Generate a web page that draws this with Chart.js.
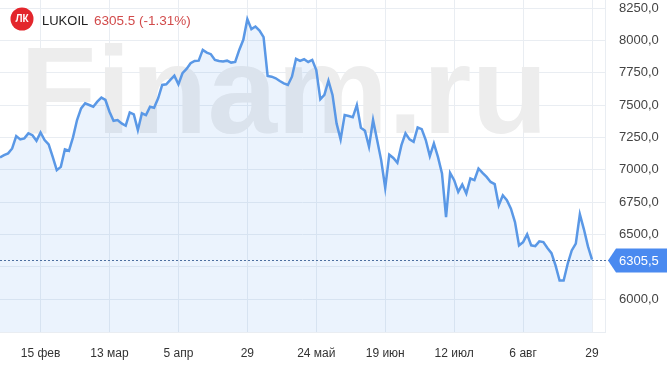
<!DOCTYPE html>
<html>
<head>
<meta charset="utf-8">
<script src="https://cdn.jsdelivr.net/npm/chart.js@4"></script>
<style>
  html, body { margin: 0; padding: 0; background: #fff; }
  canvas { display: block; }
</style>
</head>
<body>
<canvas id="chart" width="667" height="372"></canvas>
<script>
// trading-day index of each x tick and its label
const tickDays = [10, 27, 44, 61, 78, 95, 112, 129, 146];
const tickLabels = ["15 фев", "13 мар", "5 апр", "29", "24 май", "19 июн", "12 июл", "6 авг", "29"];

const priceTicks = [6000, 6250, 6500, 6750, 7000, 7250, 7500, 7750, 8000, 8250];

// daily close, one value per trading day
const prices = [
  7095, 7113, 7126, 7164, 7260, 7234, 7242, 7281, 7267, 7223,
  7288, 7229, 7195, 7099, 6996, 7022, 7157, 7146, 7250, 7384,
  7474, 7513, 7500, 7487, 7526, 7557, 7539, 7448, 7378, 7384,
  7358, 7340, 7443, 7428, 7306, 7436, 7422, 7487, 7479, 7552,
  7655, 7660, 7694, 7727, 7660, 7746, 7779, 7823, 7841, 7843,
  7926, 7905, 7893, 7849, 7841, 7836, 7843, 7828, 7833, 7926,
  8004, 8164, 8087, 8107, 8076, 8025, 7725, 7719, 7707, 7686,
  7668, 7655, 7719, 7857, 7841, 7854, 7833, 7849, 7771, 7544,
  7578, 7688, 7578, 7358, 7234, 7422, 7415, 7405, 7500, 7324,
  7301, 7177, 7384, 7229, 7074, 6860, 7116, 7091, 7054, 7190,
  7281, 7234, 7215, 7327, 7314, 7229, 7105, 7203, 7099, 6971,
  6634, 6975, 6919, 6828, 6885, 6816, 6932, 6919, 7009, 6975,
  6944, 6905, 6888, 6725, 6802, 6764, 6699, 6595, 6415, 6440,
  6500, 6415, 6409, 6446, 6440, 6394, 6355, 6260, 6143, 6143,
  6273, 6376, 6428, 6655, 6539, 6407, 6305.5
];

const ticker = "LUKOIL";
const changePct = -1.31;

const lastPrice = prices[prices.length - 1];
const LINE_COLOR = "#5a98e6";
const GRID_COLOR = "#e9edf2";

function fmtComma(v, digits) {
  return v.toFixed(digits).replace(".", ",");
}

// big pale "Finam.ru" behind the line
const watermark = {
  id: "watermark",
  beforeDatasetsDraw(chart) {
    const ctx = chart.ctx;
    ctx.save();
    ctx.font = "bold 125px 'Liberation Sans', Arial, sans-serif";
    ctx.fillStyle = "#ededed";
    ctx.textBaseline = "alphabetic";
    ctx.fillText("Finam.ru", 20, 133);
    ctx.restore();
  },
};

// dotted last price line + blue tag on the axis
const lastPriceTag = {
  id: "lastPriceTag",
  afterDraw(chart) {
    const ctx = chart.ctx;
    const y = Math.round(chart.scales.y.getPixelForValue(lastPrice)) + 0.5;
    const area = chart.chartArea;
    ctx.save();
    ctx.strokeStyle = "#4d6f9f";
    ctx.lineWidth = 1;
    ctx.setLineDash([2, 2]);
    ctx.beginPath();
    ctx.moveTo(0, y);
    ctx.lineTo(area.right + 4, y);
    ctx.stroke();
    ctx.setLineDash([]);

    const x0 = area.right + 3;
    ctx.fillStyle = "#4a8af0";
    ctx.beginPath();
    ctx.moveTo(x0, y);
    ctx.lineTo(x0 + 8, y - 12);
    ctx.lineTo(chart.width, y - 12);
    ctx.lineTo(chart.width, y + 12);
    ctx.lineTo(x0 + 8, y + 12);
    ctx.closePath();
    ctx.fill();

    ctx.fillStyle = "#fff";
    ctx.font = "13px 'Liberation Sans', Arial, sans-serif";
    ctx.textBaseline = "middle";
    ctx.fillText(fmtComma(lastPrice, 1), area.right + 14, y + 1);
    ctx.restore();
  },
};

// logo + ticker + price header
const header = {
  id: "header",
  afterDraw(chart) {
    const ctx = chart.ctx;
    ctx.save();
    ctx.fillStyle = "#e3262c";
    ctx.beginPath();
    ctx.arc(22, 19, 11.5, 0, Math.PI * 2);
    ctx.fill();
    ctx.fillStyle = "#fff";
    ctx.font = "bold 10px 'Liberation Sans', Arial, sans-serif";
    ctx.textAlign = "center";
    ctx.textBaseline = "middle";
    ctx.fillText("ЛК", 22, 19.5);

    ctx.textAlign = "left";
    ctx.textBaseline = "alphabetic";
    ctx.font = "13px 'Liberation Sans', Arial, sans-serif";
    ctx.fillStyle = "#1e1e1e";
    ctx.fillText(ticker, 42, 25);
    ctx.fillStyle = "#d24b4b";
    ctx.font = "13.5px 'Liberation Sans', Arial, sans-serif";
    const change = lastPrice.toFixed(1) + " (" + changePct.toFixed(2) + "%)";
    ctx.fillText(change, 94, 25);
    ctx.restore();
  },
};

new Chart(document.getElementById("chart"), {
  type: "line",
  data: {
    datasets: [
      {
        data: prices.map((p, i) => ({ x: i, y: p })),
        borderColor: LINE_COLOR,
        borderWidth: 2.5,
        backgroundColor: "rgba(66, 140, 240, 0.105)",
        fill: "start",
        pointRadius: 0,
        tension: 0,
      },
    ],
  },
  options: {
    responsive: false,
    animation: false,
    layout: { autoPadding: false, padding: 0 },
    plugins: {
      legend: { display: false },
      tooltip: { enabled: false },
    },
    scales: {
      x: {
        type: "linear",
        min: 0,
        max: 149.2,
        afterBuildTicks(scale) {
          scale.ticks = tickDays.map((v) => ({ value: v }));
        },
        afterFit(scale) {
          scale.height = 40;
          scale.paddingLeft = 0;
          scale.paddingRight = 0;
        },
        ticks: {
          autoSkip: false,
          maxRotation: 0,
          padding: 14,
          color: "#333",
          font: { family: "'Liberation Sans', Arial, sans-serif", size: 12 },
          callback(value) {
            const i = tickDays.indexOf(value);
            return i >= 0 ? tickLabels[i] : "";
          },
        },
        grid: { color: GRID_COLOR, drawTicks: false },
        border: { color: GRID_COLOR },
      },
      y: {
        position: "right",
        min: 5745,
        max: 8312,
        afterBuildTicks(scale) {
          scale.ticks = priceTicks.map((v) => ({ value: v }));
        },
        afterFit(scale) {
          scale.width = 62;
          scale.paddingTop = 0;
          scale.paddingBottom = 0;
        },
        ticks: {
          padding: 14,
          color: "#444",
          font: { family: "'Liberation Sans', Arial, sans-serif", size: 13 },
          callback(value) {
            // hidden behind the price tag
            if (Math.abs(value - lastPrice) < 60) return "";
            return fmtComma(value, 1);
          },
        },
        grid: { color: GRID_COLOR, drawTicks: false },
        border: { color: GRID_COLOR },
      },
    },
  },
  plugins: [watermark, lastPriceTag, header],
});
</script>
</body>
</html>
